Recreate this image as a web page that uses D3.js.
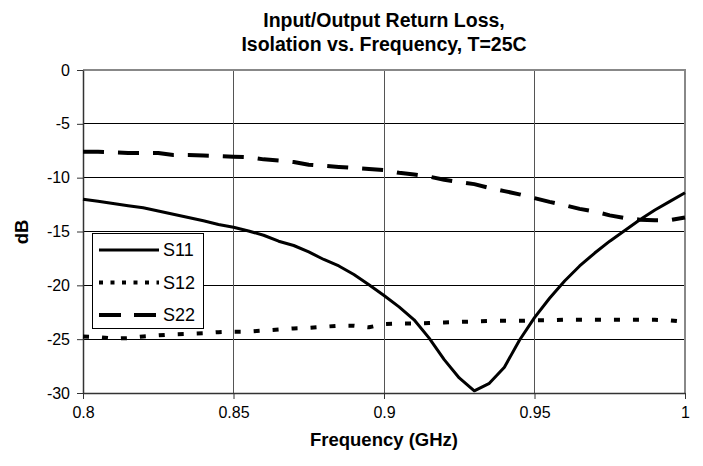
<!DOCTYPE html>
<html><head><meta charset="utf-8">
<script src="https://cdn.jsdelivr.net/npm/d3@7"></script>
<style>body{margin:0;background:#fff}svg{display:block}text{font-family:"Liberation Sans",Arial,sans-serif}</style>
</head><body><svg id="c" width="703" height="466"></svg>
<script>
const freq = [0.800,0.805,0.810,0.815,0.820,0.825,0.830,0.835,0.840,0.845,0.850,0.855,0.860,0.865,0.870,0.875,0.880,0.885,0.890,0.895,0.900,0.905,0.910,0.915,0.920,0.925,0.930,0.935,0.940,0.945,0.950,0.955,0.960,0.965,0.970,0.975,0.980,0.985,0.990,0.995,1.000];
const s11 = [-12.0,-12.2,-12.4,-12.6,-12.8,-13.1,-13.4,-13.7,-14.0,-14.35,-14.6,-14.95,-15.35,-15.9,-16.3,-16.9,-17.6,-18.2,-19.0,-19.95,-20.95,-22.0,-23.2,-24.9,-26.9,-28.6,-29.8,-29.1,-27.6,-25.1,-23.0,-21.2,-19.6,-18.2,-17.0,-15.9,-14.9,-13.9,-13.0,-12.2,-11.4];
const s12 = [-24.75,-24.8,-24.95,-24.9,-24.75,-24.65,-24.55,-24.5,-24.45,-24.35,-24.3,-24.3,-24.2,-24.1,-24.0,-23.95,-23.85,-23.75,-23.75,-23.9,-23.6,-23.55,-23.55,-23.5,-23.45,-23.4,-23.35,-23.3,-23.3,-23.3,-23.25,-23.25,-23.2,-23.2,-23.2,-23.2,-23.2,-23.2,-23.2,-23.25,-23.4];
const s22 = [-7.6,-7.6,-7.65,-7.7,-7.7,-7.7,-7.9,-7.9,-7.95,-8.0,-8.05,-8.1,-8.3,-8.4,-8.55,-8.8,-8.9,-9.0,-9.1,-9.2,-9.3,-9.55,-9.7,-9.9,-10.2,-10.4,-10.6,-10.95,-11.25,-11.55,-11.9,-12.25,-12.55,-12.9,-13.15,-13.5,-13.75,-13.9,-13.95,-13.95,-13.7];
const seriesNames = ["S11","S12","S22"];
const xTicks = [0.8,0.85,0.9,0.95,1.0];
const yTicks = [0,-5,-10,-15,-20,-25,-30];
const titleLines = ["Input/Output Return Loss,","Isolation vs. Frequency, T=25C"];
const xTitle = "Frequency (GHz)";
const yTitle = "dB";

const svg = d3.select("#c");
const L=83, R=685, T=70, B=393;
const x = d3.scaleLinear().domain([0.8,1.0]).range([L,R]);
const y = d3.scaleLinear().domain([-30,0]).range([B,T]);

// horizontal grid
svg.append("g").selectAll("line").data(yTicks.filter(d=>d>-30&&d<0)).join("line")
  .attr("x1",L).attr("x2",R).attr("y1",d=>y(d)).attr("y2",d=>y(d))
  .attr("stroke","#000").attr("stroke-width",1).attr("shape-rendering","crispEdges");
// vertical grid
svg.append("g").selectAll("line").data(xTicks.filter(d=>d>0.8&&d<1.0)).join("line")
  .attr("x1",d=>x(d)).attr("x2",d=>x(d)).attr("y1",T).attr("y2",B)
  .attr("stroke","#555").attr("stroke-width",1).attr("shape-rendering","crispEdges");
// plot border top/right
svg.append("path").attr("d",`M${L},${T}H${R}V${B}`).attr("fill","none")
  .attr("stroke","#888").attr("stroke-width",1.5).attr("shape-rendering","crispEdges");

// axes
const fmt = d=>String(d);
const xAxis = svg.append("g").attr("transform",`translate(0,${B})`)
  .call(d3.axisBottom(x).tickValues(xTicks).tickFormat(fmt).tickSizeInner(6).tickSizeOuter(0).tickPadding(8));
const yAxis = svg.append("g").attr("transform",`translate(${L},0)`)
  .call(d3.axisLeft(y).tickValues(yTicks).tickFormat(fmt).tickSizeInner(6).tickSizeOuter(0).tickPadding(7));
[xAxis,yAxis].forEach(a=>{
  a.select(".domain").attr("stroke","#333").attr("stroke-width",1.5);
  a.selectAll(".tick line").attr("stroke","#333").attr("stroke-width",1);
  a.selectAll("text").attr("font-size",16).attr("fill","#000").attr("font-family","Liberation Sans, Arial, sans-serif");
});
xAxis.selectAll(".tick text").attr("dy","0.71em");

// series
const styles = {
  S11:{dash:null, w:3},
  S12:{dash:"6,13", w:4},
  S22:{dash:"21,14", w:4}
};
const data = {S11:s11,S12:s12,S22:s22};
const line = d3.line().x((d,i)=>x(freq[i])).y(d=>y(d));
seriesNames.forEach(n=>{
  svg.append("path").datum(data[n]).attr("d",line).attr("fill","none")
    .attr("stroke","#000").attr("stroke-width",styles[n].w)
    .attr("stroke-dasharray",styles[n].dash).attr("stroke-linejoin","round");
});

// legend
const lg = svg.append("g");
lg.append("rect").attr("x",92.5).attr("y",233.5).attr("width",111).attr("height",95)
  .attr("fill","#fff").attr("stroke","#000").attr("stroke-width",1);
const lgDash = {S11:null,S12:"4,7.5",S22:"22,13"};
seriesNames.forEach((n,i)=>{
  const yy = 250 + i*32.5;
  lg.append("line").attr("x1",99).attr("x2",159).attr("y1",yy).attr("y2",yy)
    .attr("stroke","#000").attr("stroke-width",styles[n].w).attr("stroke-dasharray",lgDash[n]);
  lg.append("text").attr("x",163).attr("y",yy).attr("dy","0.36em").attr("font-size",18).text(n);
});

// titles
const tt = svg.append("text").attr("x",384).attr("text-anchor","middle").attr("font-weight","bold").attr("font-size",19.5);
titleLines.forEach((t,i)=>tt.append("tspan").attr("x",384).attr("y",27+i*23.5).text(t));
svg.append("text").attr("x",384).attr("y",446).attr("text-anchor","middle").attr("font-weight","bold").attr("font-size",18.5).text(xTitle);
svg.append("text").attr("transform",`translate(28,232) rotate(-90)`).attr("text-anchor","middle").attr("font-weight","bold").attr("font-size",18.5).text(yTitle);
</script></body></html>
